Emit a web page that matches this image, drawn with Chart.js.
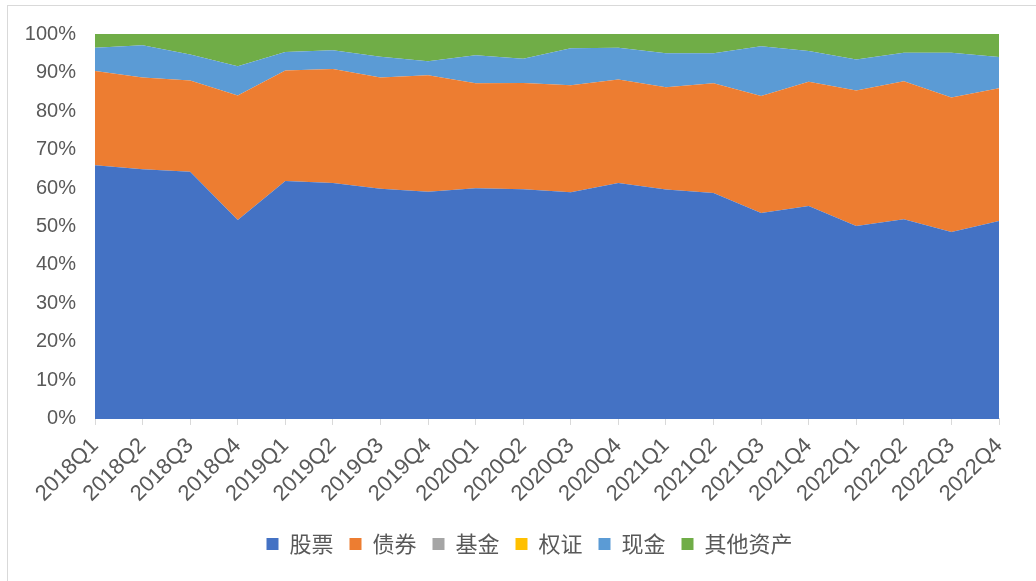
<!DOCTYPE html>
<html><head><meta charset="utf-8">
<script src="https://cdn.jsdelivr.net/npm/chart.js@4/dist/chart.umd.min.js"></script>
<style>
html,body{margin:0;padding:0;background:#fff;}
#wrap{position:relative;width:1036px;height:581px;overflow:hidden;background:#fff;}
#frame{position:absolute;left:7px;top:5px;width:1100px;height:700px;border:1px solid #d9d9d9;box-sizing:border-box;}
canvas{position:absolute;left:0;top:0;}
</style></head><body>
<div id="wrap"><div id="frame"></div><canvas id="c" width="1036" height="581"></canvas></div>
<script>
const categories = ['2018Q1','2018Q2','2018Q3','2018Q4','2019Q1','2019Q2','2019Q3','2019Q4','2020Q1','2020Q2','2020Q3','2020Q4','2021Q1','2021Q2','2021Q3','2021Q4','2022Q1','2022Q2','2022Q3','2022Q4'];
const stock   = [65.9,64.9,64.2,51.7,61.8,61.3,59.8,59.0,59.9,59.7,58.9,61.3,59.6,58.7,53.5,55.3,50.1,51.9,48.6,51.4];
const bond    = [24.5,23.8,23.7,32.3,28.7,29.6,28.9,30.3,27.3,27.6,27.8,26.9,26.6,28.5,30.4,32.3,35.2,35.8,34.9,34.5];
const fund    = [0,0,0,0,0,0,0,0,0,0,0,0,0,0,0,0,0,0,0,0];
const warrant = [0,0,0,0,0,0,0,0,0,0,0,0,0,0,0,0,0,0,0,0];
const cash    = [6.0,8.4,6.8,7.6,4.8,4.9,5.4,3.6,7.3,6.3,9.6,8.2,8.8,7.8,12.9,8.0,8.1,7.4,11.6,8.1];
const other   = [3.6,2.9,5.3,8.4,4.7,4.2,5.9,7.1,5.5,6.4,3.7,3.6,5.0,5.0,3.2,4.4,6.6,4.9,4.9,6.0];
const seriesNames = ['股票','债券','基金','权证','现金','其他资产'];
const yTickStep = 10;
const yMax = 100;

const colors = ['#4472C4','#ED7D31','#A5A5A5','#FFC000','#5B9BD5','#70AD47'];
const values = [stock,bond,fund,warrant,cash,other];
const datasets = values.map((v,i)=>({
  label: seriesNames[i],
  data: v,
  backgroundColor: colors[i],
  borderColor: 'rgba(0,0,0,0)',
  borderWidth: 0,
  pointRadius: 0,
  pointHoverRadius: 0,
  fill: i===0 ? 'origin' : '-1',
  tension: 0
}));

// shift legend horizontally so it is centred like the reference
const legendShift = {
  id: 'legendShift',
  afterLayout(chart) {
    const lg = chart.legend;
    if (lg) { lg.left += 25; lg.right += 25; }
  }
};

const txt = '#595959';
new Chart(document.getElementById('c'), {
  type: 'line',
  data: { labels: categories, datasets },
  plugins: [legendShift],
  options: {
    responsive: false,
    animation: false,
    events: [],
    layout: { padding: { top: 34, left: 10, right: 37, bottom: 16 } },
    plugins: {
      tooltip: { enabled: false },
      legend: {
        position: 'bottom',
        labels: {
          color: txt,
          font: { family: '"Noto Sans CJK SC", sans-serif', size: 22 },
          boxWidth: 12, boxHeight: 12, padding: 16
        }
      }
    },
    scales: {
      x: {
        offset: false,
        grid: { display: true, drawOnChartArea: false, drawTicks: true, tickLength: 6, color: '#d9d9d9' },
        border: { display: true, color: '#d9d9d9', width: 1 },
        afterFit: s => { s.height = s.height + 2; },
        ticks: {
          color: txt, autoSkip: false, maxRotation: 45, minRotation: 45,
          font: { family: '"Liberation Sans", Arial, sans-serif', size: 22 }, padding: 8
        }
      },
      y: {
        stacked: true, min: 0, max: yMax,
        grid: { display: false, drawTicks: false },
        border: { display: false },
        afterFit: s => { s.width = 85; },
        ticks: {
          color: txt, padding: 19, stepSize: yTickStep,
          font: { family: '"Liberation Sans", Arial, sans-serif', size: 20 },
          callback: v => v + '%'
        }
      }
    }
  }
});
</script>
</body></html>
